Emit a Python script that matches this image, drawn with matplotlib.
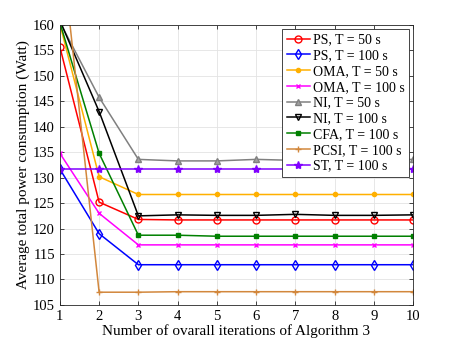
import numpy as np
import matplotlib
matplotlib.use("Agg")
import matplotlib.pyplot as plt

plt.rcParams['font.family'] = ['Liberation Serif', 'DejaVu Serif']
plt.rcParams['mathtext.fontset'] = 'stix'

iterations = [1, 2, 3, 4, 5, 6, 7, 8, 9, 10]

ps_50 = [155.7, 125.2, 121.8, 121.7, 121.7, 121.7, 121.7, 121.7, 121.7, 121.7]
ps_100 = [131.7, 119.0, 112.9, 112.9, 112.9, 112.9, 112.9, 112.9, 112.9, 112.9]
oma_50 = [160.2, 130.2, 126.7, 126.7, 126.7, 126.7, 126.7, 126.7, 126.7, 126.7]
oma_100 = [134.8, 123.0, 116.8, 116.8, 116.8, 116.8, 116.8, 116.8, 116.8, 116.8]
ni_50 = [160.6, 145.8, 133.6, 133.3, 133.3, 133.6, 133.4, 133.4, 133.4, 133.6]
ni_100 = [160.9, 143.0, 122.5, 122.7, 122.6, 122.6, 122.8, 122.6, 122.6, 122.7]
cfa_100 = [160.5, 134.8, 118.7, 118.7, 118.5, 118.5, 118.5, 118.5, 118.5, 118.5]
pcsi_100 = [178.4, 107.5, 107.5, 107.6, 107.6, 107.6, 107.6, 107.6, 107.6, 107.6]
st_100 = [131.7] * 10

labels = ['PS, T = 50 s', 'PS, T = 100 s', 'OMA, T = 50 s', 'OMA, T = 100 s',
          'NI, T = 50 s', 'NI, T = 100 s', 'CFA, T = 100 s', 'PCSI, T = 100 s',
          'ST, T = 100 s']

fig = plt.figure(figsize=(4.57, 3.43), dpi=100)
ax = fig.add_axes([0.131, 0.111, 0.773, 0.816])

ax.plot(iterations, ps_50, color='#FF0000', marker='o', mfc='none', ms=5, lw=1.1, label=labels[0])
ax.plot(iterations, ps_100, color='#0000FF', marker='d', mfc='none', ms=5, lw=1.1, label=labels[1])
ax.plot(iterations, oma_50, color='#FFB000', marker='o', ms=3, lw=1.1, label=labels[2])
ax.plot(iterations, oma_100, color='#FF00FF', marker='x', ms=3.5, lw=1.1, label=labels[3])
ax.plot(iterations, ni_50, color='#808080', marker='^', mfc='#A0A0A0', ms=5, lw=1.1, label=labels[4])
ax.plot(iterations, ni_100, color='#000000', marker='v', mfc='none', ms=5, lw=1.1, label=labels[5])
ax.plot(iterations, cfa_100, color='#008000', marker='s', ms=3.5, lw=1.1, label=labels[6])
ax.plot(iterations, pcsi_100, color='#D2873C', marker='+', ms=5, lw=1.1, label=labels[7])
ax.plot(iterations, st_100, color='#8000FF', marker='*', ms=6, lw=1.1, label=labels[8])

ax.set_xlim(1, 10)
ax.set_ylim(105, 160)
ax.set_xticks(iterations)
ax.set_yticks(np.arange(105, 161, 5))
ax.tick_params(direction='in', top=True, right=True, labelsize=10.5, length=3, width=0.5)
ax.grid(True, color='#E3E3E3', lw=0.6)
for s in ax.spines.values():
    s.set_linewidth(0.6)
    s.set_color('#262626')

ax.set_xlabel('Number of ovarall iterations of Algorithm 3', fontsize=11, labelpad=1)
ax.set_ylabel('Average total power consumption (Watt)', fontsize=11, labelpad=2)

leg = ax.legend(loc='upper right', fontsize=10, frameon=True, fancybox=False,
                edgecolor='#262626', framealpha=1, handlelength=1.7, borderpad=0.3,
                labelspacing=0.2, handletextpad=0.2, borderaxespad=0.3)
leg.get_frame().set_linewidth(0.6)

fig.savefig('out.png', dpi=100)
